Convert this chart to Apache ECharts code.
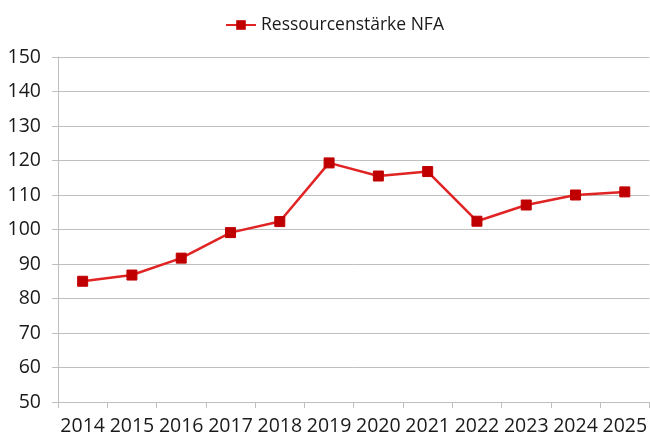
<!DOCTYPE html>
<html>
<head>
<meta charset="utf-8">
<script src="https://cdn.jsdelivr.net/npm/echarts@6/dist/echarts.min.js"></script>
<style>
  html, body { margin: 0; padding: 0; background: #fff; }
  #chart { width: 650px; height: 436px; }
</style>
</head>
<body>
<div id="chart"></div>
<script>
var years = ['2014', '2015', '2016', '2017', '2018', '2019', '2020', '2021', '2022', '2023', '2024', '2025'];
var seriesName = 'Ressourcenstärke NFA';
var values = [85.0, 86.8, 91.7, 99.1, 102.3, 119.3, 115.5, 116.8, 102.4, 107.1, 110.0, 110.9];

var myChart = echarts.init(document.getElementById('chart'));
var font = '"Open Sans", "Noto Sans", sans-serif';

var option = {
    animation: false,
    legend: {
        top: 11,
        left: 220,
        itemWidth: 30,
        itemHeight: 12,
        itemGap: 4,
        textStyle: { fontFamily: font, fontSize: 17.5, color: '#1a1a1a' },
        data: [seriesName]
    },
    grid: { left: 58, right: -2, top: 57, bottom: 33, containLabel: false },
    xAxis: {
        type: 'category',
        data: years,
        boundaryGap: true,
        axisLine: { lineStyle: { color: '#bfbfbf', width: 1 } },
        axisTick: { show: true, alignWithLabel: false, length: 6, inside: false, lineStyle: { color: '#bfbfbf' } },
        axisLabel: { margin: 14, fontFamily: font, fontSize: 19.5, color: '#1a1a1a', interval: 0 }
    },
    yAxis: {
        type: 'value',
        min: 50,
        max: 150,
        interval: 10,
        axisLine: { show: true, lineStyle: { color: '#bfbfbf', width: 1 } },
        axisTick: { show: true, length: 6, lineStyle: { color: '#bfbfbf' } },
        axisLabel: { margin: 17, fontFamily: font, fontSize: 19.5, color: '#1a1a1a' },
        splitLine: { lineStyle: { color: '#bfbfbf', width: 1 } }
    },
    series: [{
        name: seriesName,
        type: 'line',
        data: values,
        symbol: 'rect',
        symbolSize: 10,
        lineStyle: { color: '#e02424', width: 2.5 },
        itemStyle: { color: '#c00000', borderColor: '#c00000' }
    }]
};

myChart.setOption(option);
</script>
</body>
</html>
